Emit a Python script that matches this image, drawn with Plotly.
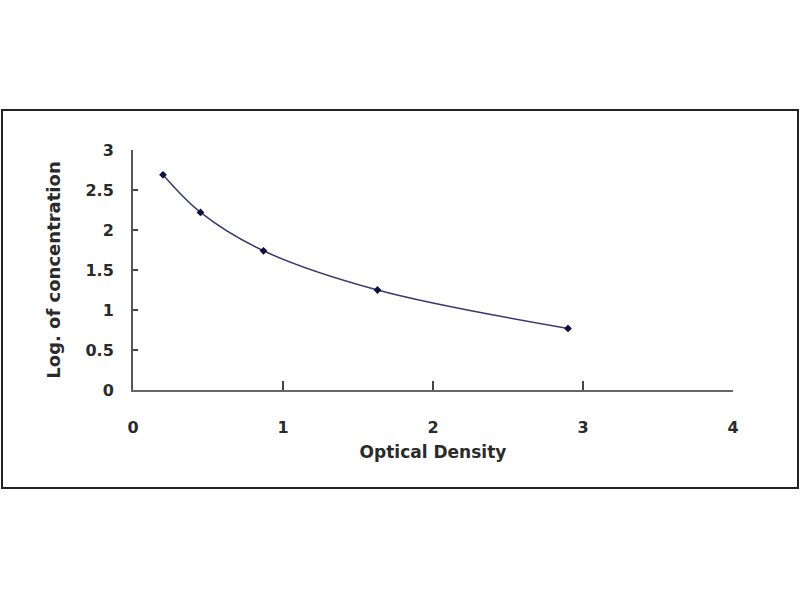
import plotly.graph_objects as go

# standard curve readings
optical_density = [0.20, 0.45, 0.87, 1.63, 2.90]
log_concentration = [2.69, 2.22, 1.74, 1.25, 0.77]

x_ticks = [0, 1, 2, 3, 4]
y_ticks = [0, 0.5, 1, 1.5, 2, 2.5, 3]

fig = go.Figure()
fig.add_trace(go.Scatter(
    x=optical_density,
    y=log_concentration,
    mode="lines+markers",
    line=dict(color="#3a3a6e", width=1.5, shape="spline", smoothing=1.0),
    marker=dict(color="#101040", size=6, symbol="diamond"),
    showlegend=False,
))

# plot area: x 133..733, y 150..390 (px)
L, R, T, B = 133, 733, 150, 390
W, H = R - L, B - T

fig.update_layout(
    width=800, height=600,
    margin=dict(l=L, r=800 - R, t=T, b=600 - B, pad=0),
    paper_bgcolor="white", plot_bgcolor="white",
    font=dict(family="DejaVu Sans", color="#2a2a2a"),
    shapes=[dict(
        type="rect", xref="paper", yref="paper",
        x0=(2 - L) / W, x1=(798 - L) / W,
        y0=(B - 488) / H, y1=(B - 110) / H,
        line=dict(color="#222222", width=2),
    )],
)

fig.update_xaxes(
    range=[0, 4], tickvals=x_ticks, ticktext=[f"<b>{v}</b>" for v in x_ticks],
    showgrid=False, zeroline=False, showline=True,
    linecolor="#666666", linewidth=2,
    ticks="inside", ticklen=9, tickwidth=2, tickcolor="#444444",
    tickfont=dict(size=16), ticklabelstandoff=22,
    title=dict(text="<b>Optical Density</b>", font=dict(size=17), standoff=10),
)
fig.update_yaxes(
    range=[0, 3], tickvals=y_ticks, ticktext=[f"<b>{v:g}</b>" for v in y_ticks],
    showgrid=False, zeroline=False, showline=True,
    linecolor="#555555", linewidth=2,
    ticks="inside", ticklen=5, tickwidth=2, tickcolor="#444444",
    tickfont=dict(size=16), ticklabelstandoff=14,
    title=dict(text="<b>Log. of concentration</b>", font=dict(size=18), standoff=20),
)

fig.write_html("out.html", config={"displayModeBar": False},
               post_script="document.body.style.margin='0';")
